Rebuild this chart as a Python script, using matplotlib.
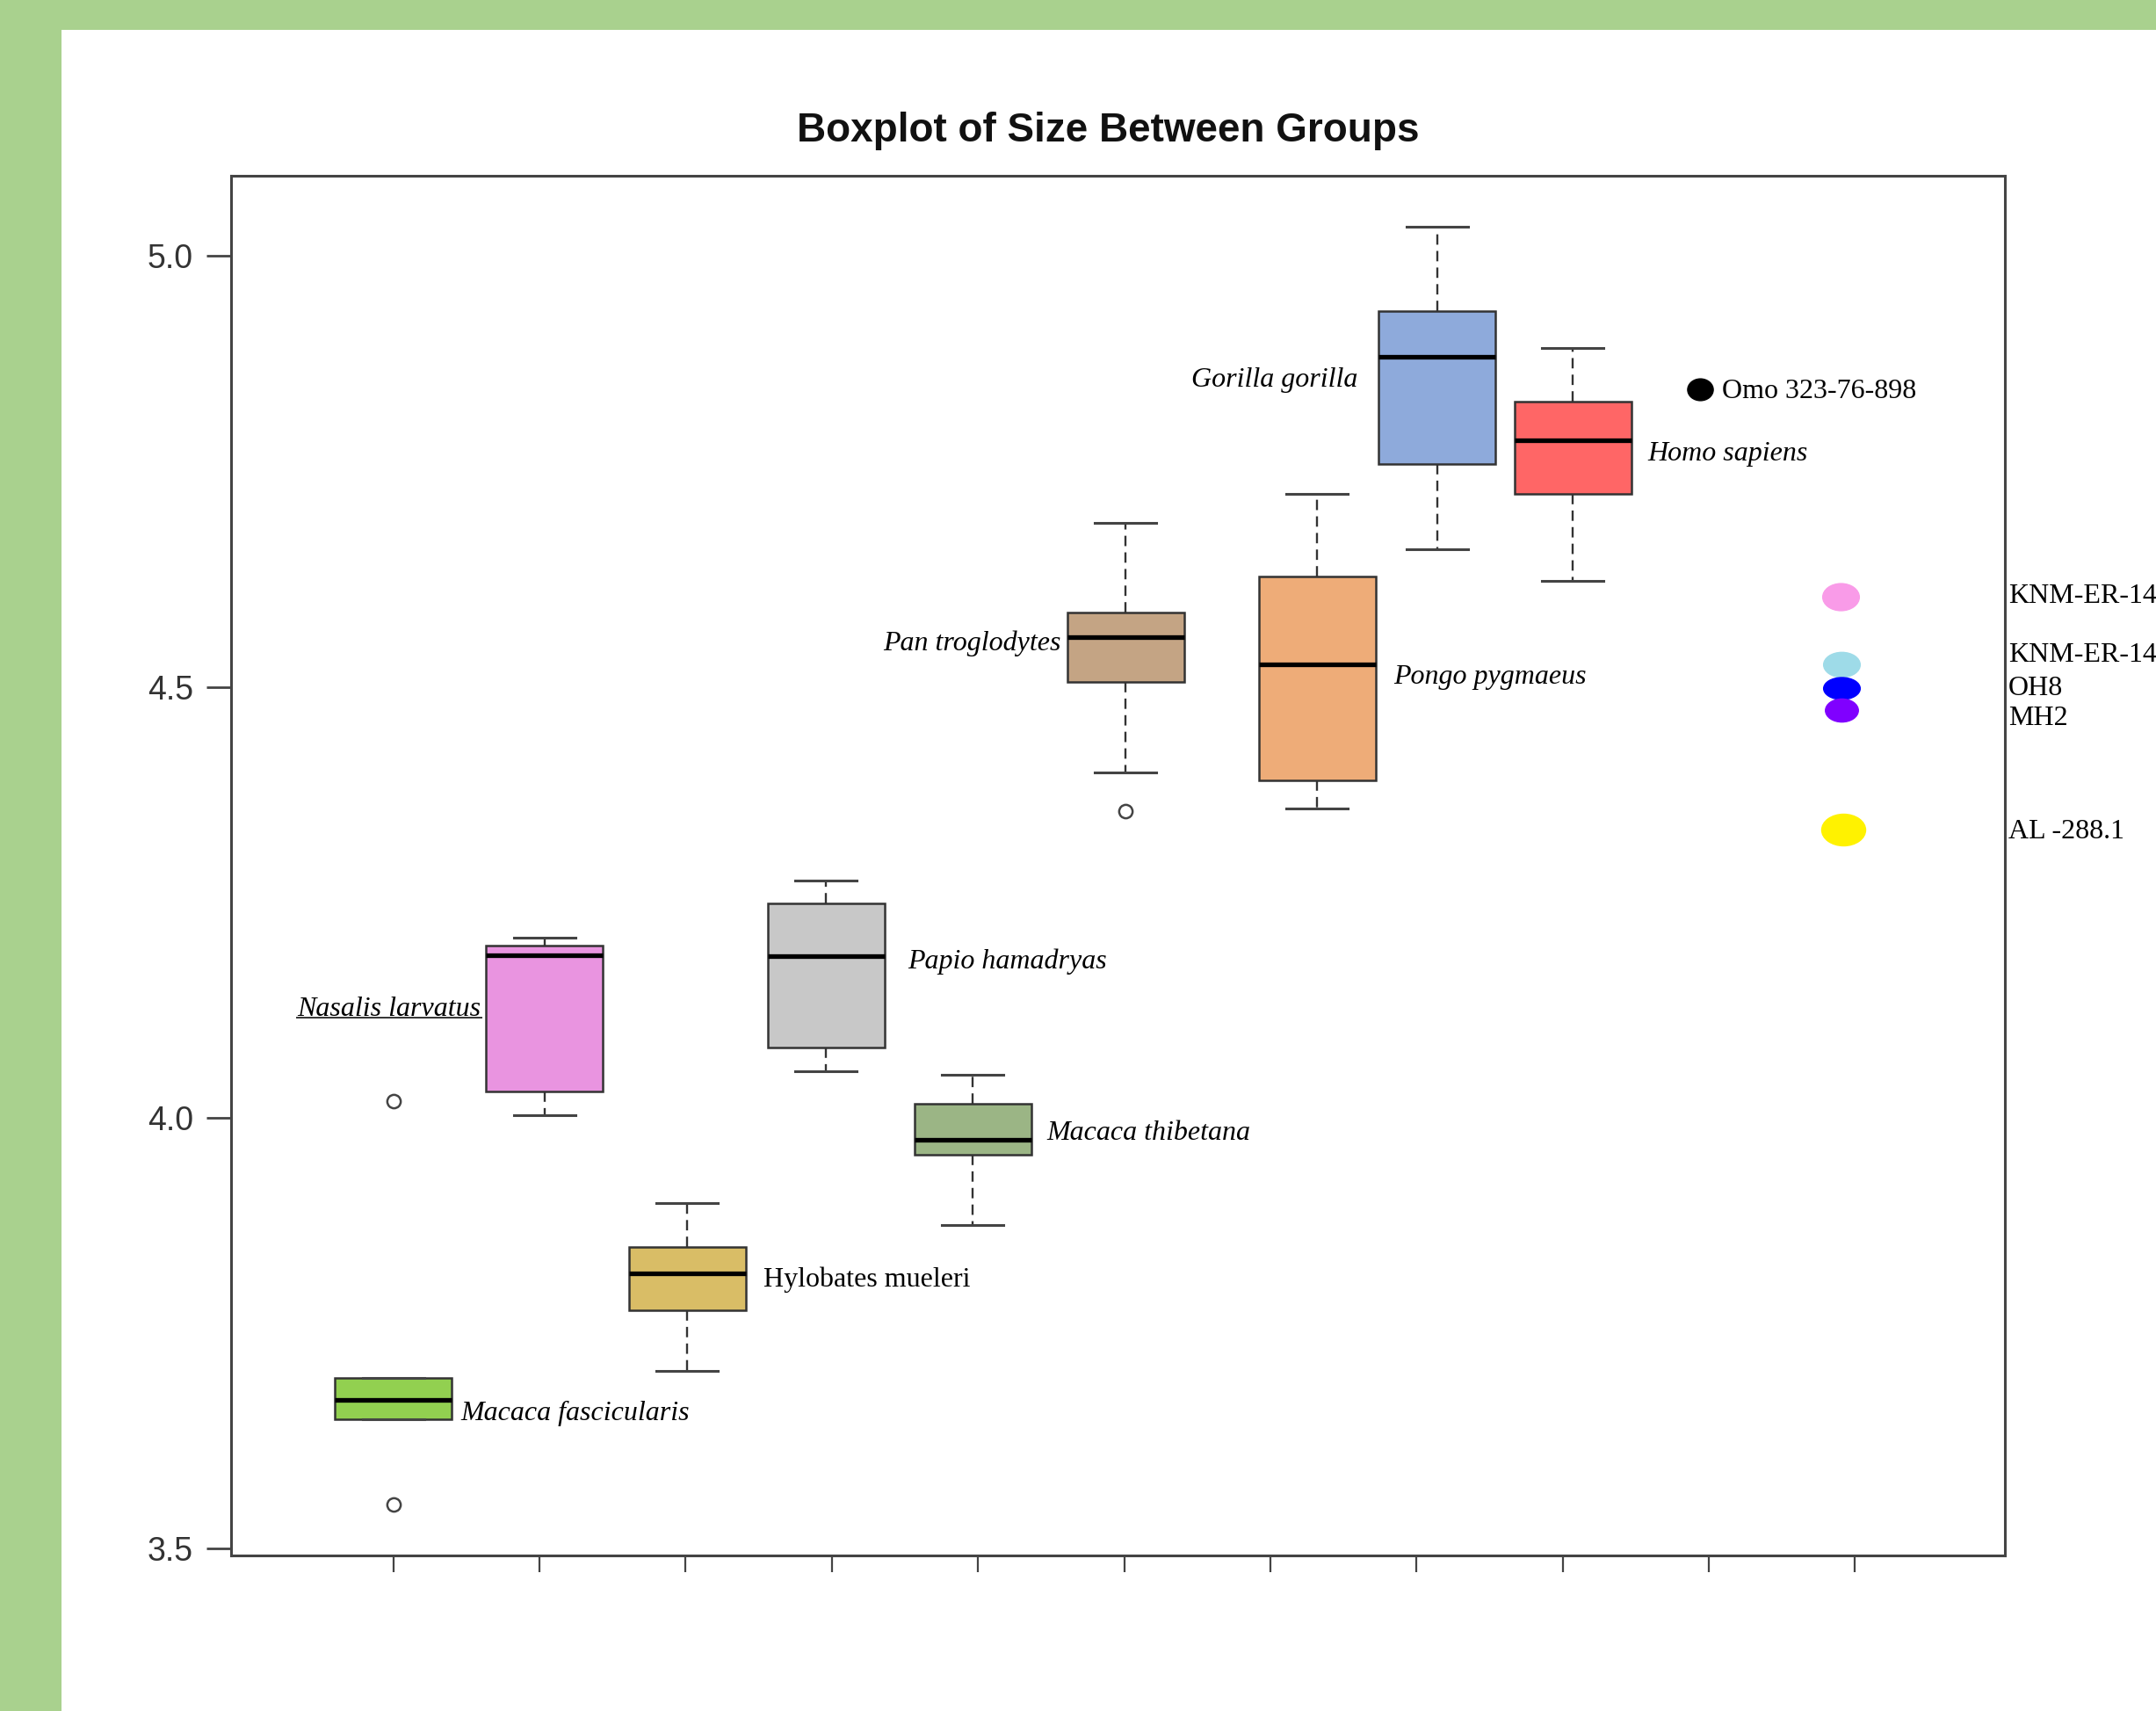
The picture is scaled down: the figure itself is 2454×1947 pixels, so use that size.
import numpy as np
import matplotlib
matplotlib.use('Agg')
import matplotlib.pyplot as plt
from matplotlib.path import Path
from matplotlib.patches import Rectangle

# Species boxplot data (log size)
species = ['Macaca fascicularis', 'Nasalis larvatus', 'Hylobates mueleri',
           'Papio hamadryas', 'Macaca thibetana', 'Pan troglodytes',
           'Pongo pygmaeus', 'Gorilla gorilla', 'Homo sapiens']
q1 = [3.650, 4.030, 3.776, 4.081, 3.957, 4.506, 4.391, 4.759, 4.724]
med = [3.672, 4.188, 3.819, 4.187, 3.974, 4.558, 4.526, 4.883, 4.786]
q3 = [3.698, 4.200, 3.850, 4.249, 4.016, 4.586, 4.628, 4.936, 4.831]
whislo = [3.650, 4.003, 3.706, 4.054, 3.875, 4.401, 4.359, 4.660, 4.623]
whishi = [3.698, 4.209, 3.901, 4.275, 4.050, 4.690, 4.724, 5.034, 4.893]
fliers = [[4.019, 3.551], [], [], [], [], [4.356], [], [], []]

# Fossil specimens
fossils = ['Omo 323-76-898', 'KNM-ER-14', 'KNM-ER-14', 'OH8', 'MH2', 'AL -288.1']
fossil_size = [4.845, 4.605, 4.526, 4.498, 4.473, 4.334]

# layout / style
box_pos = [1.0, 2.035, 3.01, 3.96, 4.965, 6.01, 7.32, 8.14, 9.07]
box_colors = ['#92d050', '#e994e0', '#d9bd66', '#c8c8c8', '#9bb585',
              '#c4a484', '#eeac78', '#8eaadb', '#ff6666']
box_inner = ['#7ab83a', '#d94fd0', '#c8960a', '#a8a8a8', '#5c8a3c',
             '#9c6b3c', '#e87722', '#2f5597', '#ff0000']
fossil_x = [9.94, 10.90, 10.91, 10.91, 10.91, 10.92]
fossil_colors = ['#000000', '#f99be8', '#9edbe8', '#0000ff', '#8000ff', '#fff200']
fossil_w = [21, 30, 30, 30, 27, 36]
fossil_ratio = [0.85, 0.74, 0.68, 0.6, 0.7, 0.72]
fossil_label_x = [10.09, 12.05, 12.05, 12.05, 12.05, 12.05]
fossil_label_y = [4.843, 4.605, 4.537, 4.498, 4.463, 4.332]

plt.rcParams['font.family'] = ['Liberation Sans', 'DejaVu Sans']

fig = plt.figure(figsize=(24.54, 19.47), dpi=100)
fig.patch.set_facecolor('white')
# green frame on top and left
fig.patches.append(Rectangle((0, 1 - 34 / 1947), 1, 34 / 1947, transform=fig.transFigure,
                             facecolor='#a9d18e', edgecolor='none', zorder=0))
fig.patches.append(Rectangle((0, 0), 70 / 2454, 1, transform=fig.transFigure,
                             facecolor='#a9d18e', edgecolor='none', zorder=0))

ax = fig.add_axes([263 / 2454, 1 - 1770 / 1947, (2282 - 263) / 2454, (1770 - 200) / 1947])

stats = []
for i in range(len(species)):
    stats.append(dict(med=med[i], q1=q1[i], q3=q3[i], whislo=whislo[i],
                      whishi=whishi[i], fliers=fliers[i], label=species[i]))

bp = ax.bxp(stats, positions=box_pos, widths=0.8, capwidths=0.42, patch_artist=True,
            manage_ticks=False,
            boxprops=dict(edgecolor='#333333', linewidth=1.8),
            medianprops=dict(color='black', linewidth=3.8),
            whiskerprops=dict(color='#333333', linewidth=1.7, linestyle=(0, (5, 3))),
            capprops=dict(color='#444444', linewidth=2.2),
            flierprops=dict(marker='o', markersize=11, markerfacecolor='none',
                            markeredgecolor='#444444', markeredgewidth=1.8))
for patch, c, ec in zip(bp['boxes'], box_colors, box_inner):
    patch.set_facecolor(c)

# fossil points as slightly flattened ellipses
circ = Path.unit_circle()
for x, y, c, w, r in zip(fossil_x, fossil_size, fossil_colors, fossil_w, fossil_ratio):
    m = Path(circ.vertices * np.array([1.0, r]), circ.codes)
    ax.plot([x], [y], linestyle='none', marker=m, markersize=w,
            markerfacecolor=c, markeredgecolor=c, zorder=5)

serif = ['Liberation Serif', 'DejaVu Serif']
fs = 23
for name, x, y in zip(fossils, fossil_label_x, fossil_label_y):
    ax.text(x, y, name, family=serif, fontsize=fs, ha='left', va='center',
            clip_on=False)

# species labels
lab = {
    'Macaca fascicularis': (1.46, 3.657, 'left', 'italic'),
    'Nasalis larvatus': (1.60, 4.126, 'right', 'italic'),
    'Hylobates mueleri': (3.53, 3.812, 'left', 'normal'),
    'Papio hamadryas': (4.52, 4.181, 'left', 'italic'),
    'Macaca thibetana': (5.47, 3.982, 'left', 'italic'),
    'Pan troglodytes': (5.57, 4.550, 'right', 'italic'),
    'Pongo pygmaeus': (7.84, 4.511, 'left', 'italic'),
    'Gorilla gorilla': (7.60, 4.856, 'right', 'italic'),
    'Homo sapiens': (9.58, 4.770, 'left', 'italic'),
}
texts = {}
for name in species:
    x, y, ha, st = lab[name]
    texts[name] = ax.text(x, y, name, family=serif, fontsize=fs, style=st,
                          ha=ha, va='center', zorder=6)

ax.set_xlim(-0.11, 12.025)
ax.set_ylim(3.492, 5.093)
ax.set_xticks(range(1, 12))
ax.set_xticklabels([])
ax.set_yticks([3.5, 4.0, 4.5, 5.0])
ax.set_yticklabels(['3.5', '4.0', '4.5', '5.0'])
ax.tick_params(axis='y', length=20, width=2, color='#444444', pad=11,
               labelsize=27, labelcolor='#333333')
ax.tick_params(axis='x', length=13.5, width=1.6, color='#444444')
for s in ax.spines.values():
    s.set_color('#444444')
    s.set_linewidth(2.2)

fig.text(0.514, 0.9236, 'Boxplot of Size Between Groups', fontsize=33,
         fontweight='bold', ha='center', va='center', color='#111111')

# underline under Nasalis larvatus
fig.canvas.draw()
r = fig.canvas.get_renderer()
bb = texts['Nasalis larvatus'].get_window_extent(r)
inv = ax.transData.inverted()
(x0, y0), (x1, _) = inv.transform([(bb.x0, bb.y0 + 5), (bb.x1, bb.y0 + 5)])
ax.plot([x0, x1], [y0, y0], color='#333333', linewidth=1.4)

fig.savefig('out.png', dpi=100)
